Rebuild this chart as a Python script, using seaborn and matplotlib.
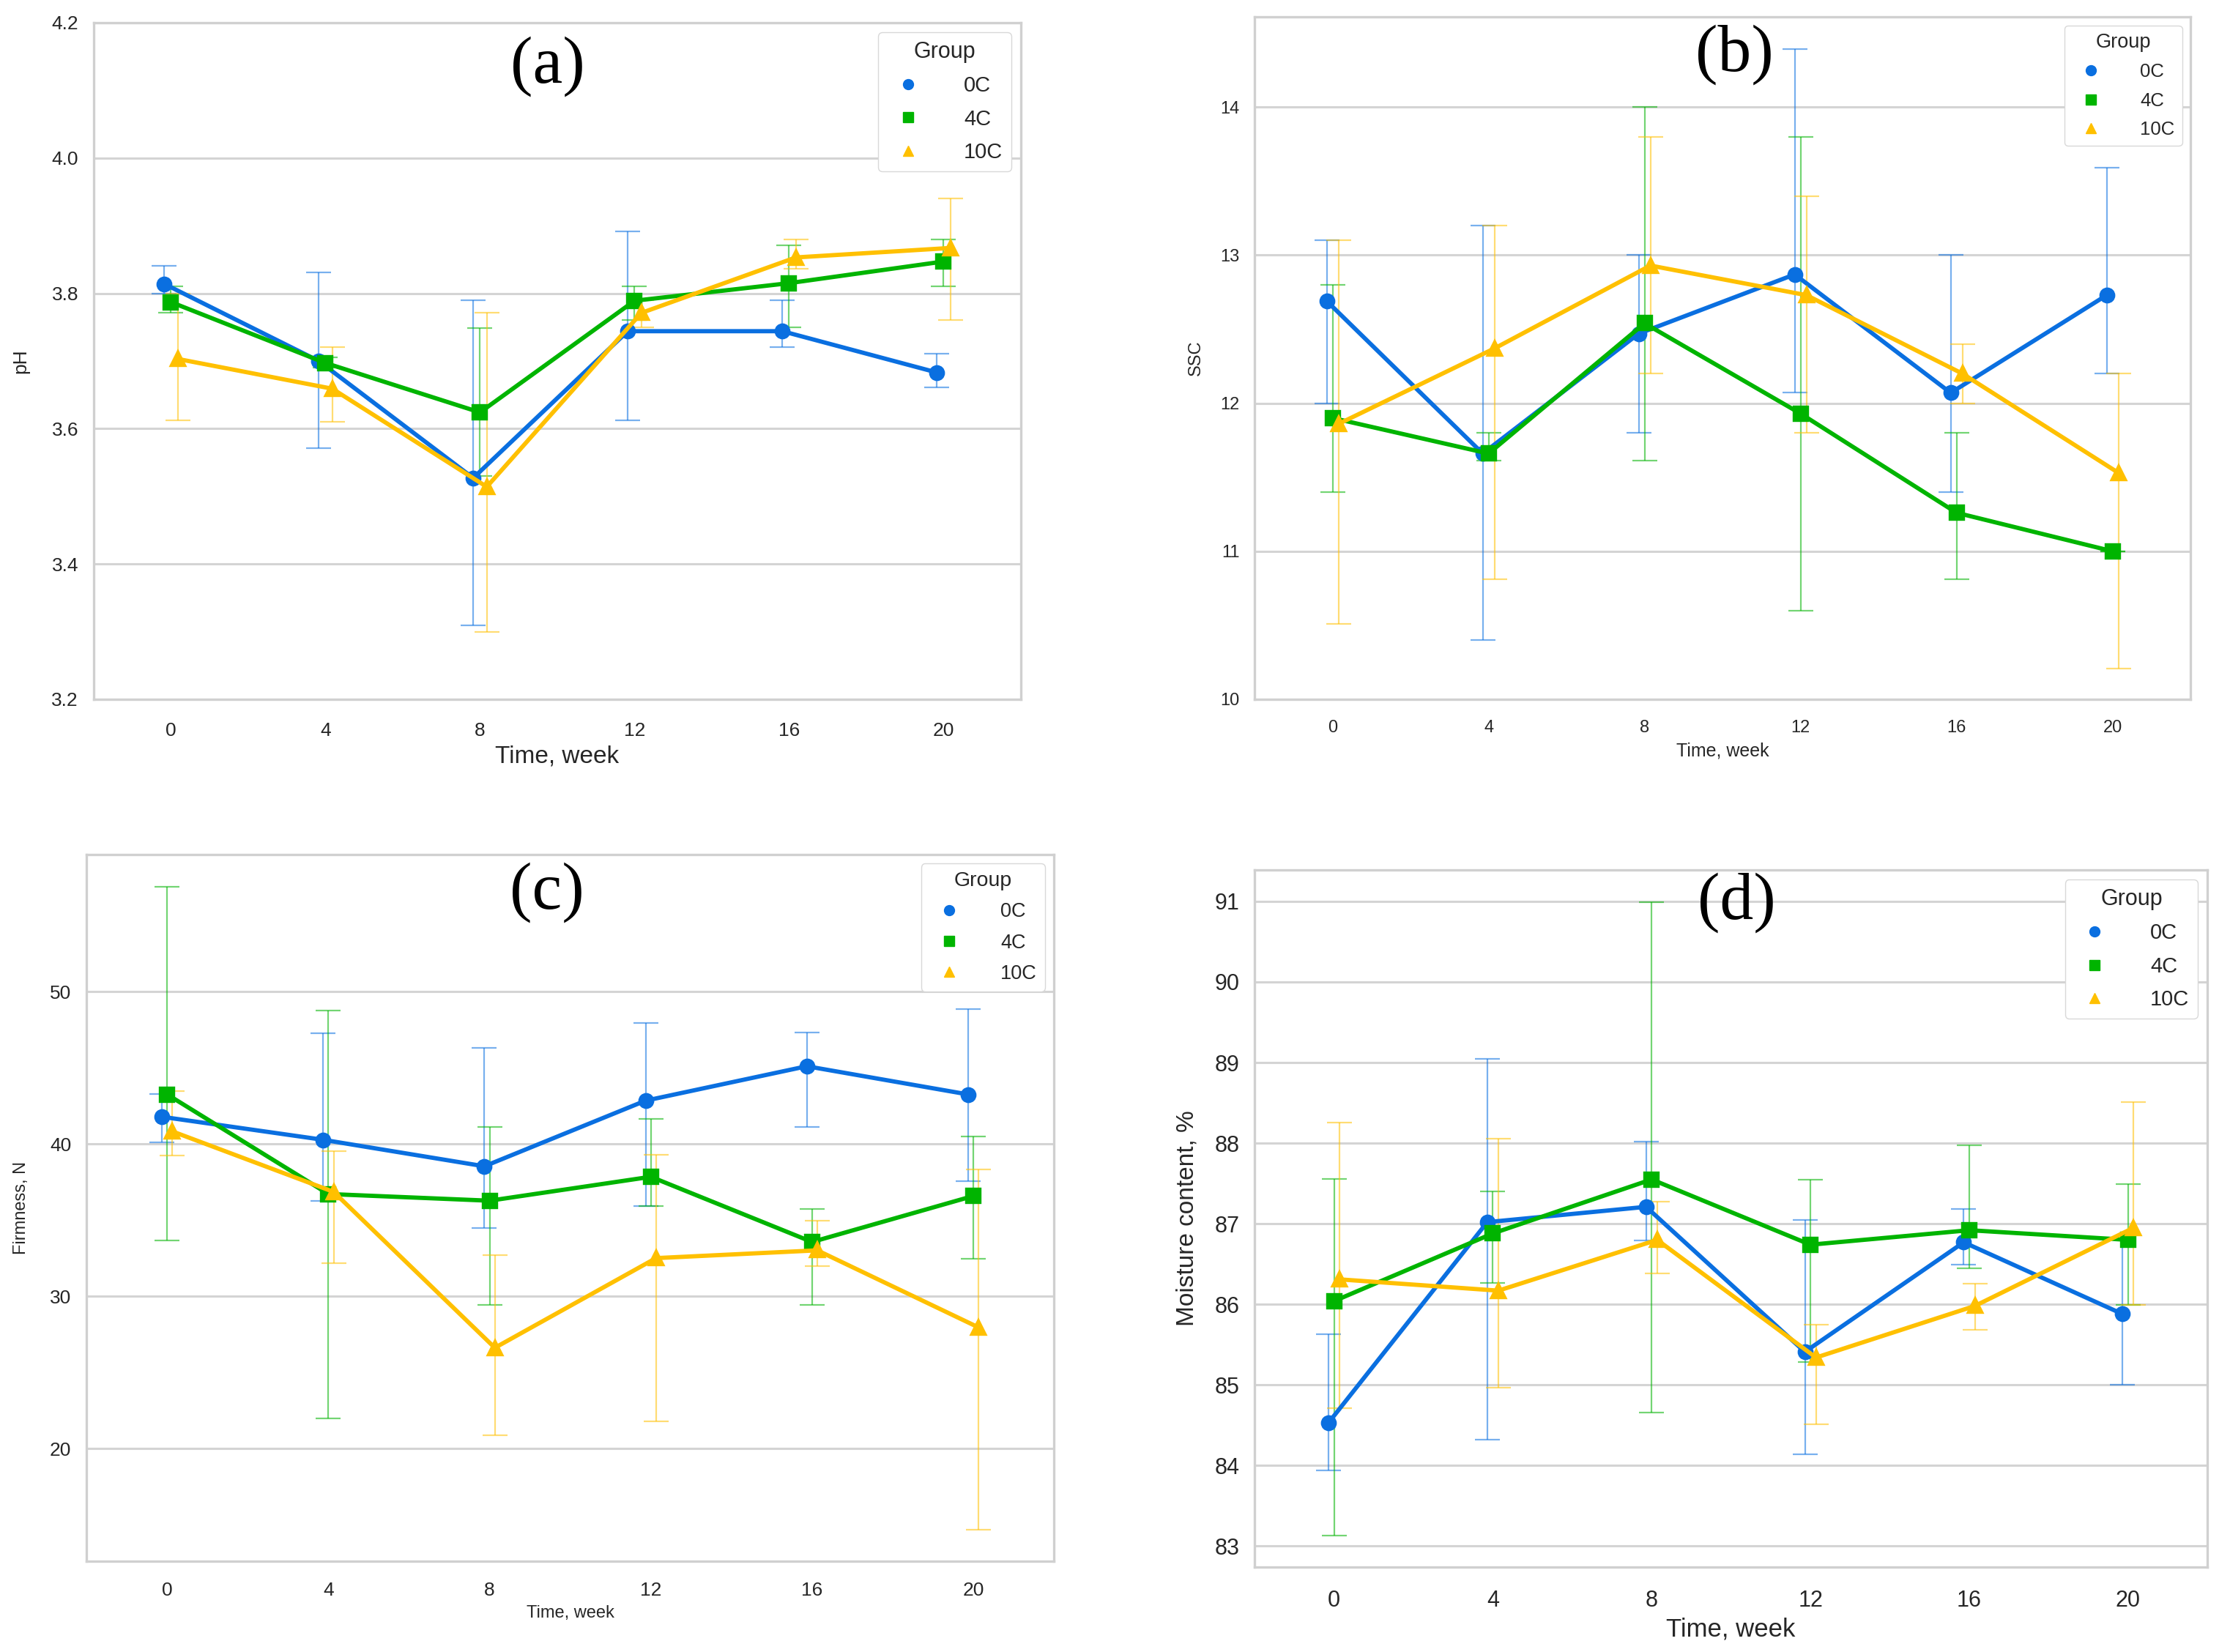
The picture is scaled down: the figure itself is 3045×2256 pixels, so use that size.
import numpy as np
import pandas as pd
import matplotlib
matplotlib.use("Agg")
import matplotlib.pyplot as plt
from matplotlib.lines import Line2D
import seaborn as sns

weeks = [0, 4, 8, 12, 16, 20]
groups = ["0C", "4C", "10C"]
colors = ["#0a6fe0", "#00b400", "#ffc000"]
markers = ["o", "s", "^"]

# pH (rows: 0C, 4C, 10C)
ph_mean = [[3.814, 3.700, 3.527, 3.744, 3.744, 3.683],
           [3.787, 3.697, 3.624, 3.789, 3.815, 3.847],
           [3.703, 3.659, 3.514, 3.771, 3.853, 3.867]]
ph_low = [[3.800, 3.571, 3.309, 3.612, 3.721, 3.661],
          [3.771, 3.690, 3.530, 3.761, 3.750, 3.810],
          [3.612, 3.610, 3.300, 3.750, 3.836, 3.761]]
ph_high = [[3.841, 3.831, 3.790, 3.891, 3.790, 3.711],
           [3.810, 3.705, 3.749, 3.810, 3.871, 3.880],
           [3.800, 3.721, 3.771, 3.790, 3.880, 3.940]]
ph_ticks = [3.2, 3.4, 3.6, 3.8, 4.0, 4.2]

# SSC
ssc_mean = [[12.69, 11.66, 12.47, 12.87, 12.07, 12.73],
            [11.90, 11.66, 12.54, 11.93, 11.26, 11.00],
            [11.86, 12.37, 12.93, 12.73, 12.20, 11.53]]
ssc_low = [[12.00, 10.40, 11.80, 12.07, 11.40, 12.20],
           [11.40, 11.61, 11.61, 10.60, 10.81, 11.00],
           [10.51, 10.81, 12.20, 11.80, 12.00, 10.21]]
ssc_high = [[13.10, 13.20, 13.00, 14.39, 13.00, 13.59],
            [12.80, 11.80, 14.00, 13.80, 11.80, 11.00],
            [13.10, 13.20, 13.80, 13.40, 12.40, 12.20]]
ssc_ticks = [10, 11, 12, 13, 14]

# Firmness, N
firm_mean = [[41.78, 40.27, 38.53, 42.84, 45.10, 43.25],
             [43.25, 36.71, 36.27, 37.84, 33.56, 36.58],
             [40.82, 36.85, 26.61, 32.50, 33.01, 27.95]]
firm_low = [[40.10, 36.27, 34.49, 35.92, 41.10, 37.57],
            [33.66, 21.99, 29.45, 35.92, 29.45, 32.47],
            [39.25, 32.16, 20.89, 21.78, 31.99, 14.66]]
firm_high = [[43.29, 47.29, 46.30, 47.95, 47.33, 48.87],
             [56.90, 48.77, 41.10, 41.64, 35.75, 40.48],
             [43.49, 39.52, 32.71, 39.28, 34.97, 38.32]]
firm_ticks = [20, 30, 40, 50]

# Moisture content, %
moist_mean = [[84.53, 87.02, 87.21, 85.41, 86.77, 85.88],
              [86.04, 86.88, 87.55, 86.74, 86.92, 86.80],
              [86.31, 86.17, 86.80, 85.34, 85.98, 86.95]]
moist_low = [[83.94, 84.32, 86.79, 84.14, 86.49, 85.00],
             [83.13, 86.27, 84.66, 85.28, 86.45, 85.99],
             [84.71, 84.97, 86.38, 84.51, 85.68, 85.99]]
moist_high = [[85.63, 89.05, 88.02, 87.05, 87.18, 86.82],
              [87.56, 87.40, 90.99, 87.55, 87.97, 87.49],
              [88.26, 88.06, 87.27, 85.75, 86.26, 88.51]]
moist_ticks = [83, 84, 85, 86, 87, 88, 89, 90, 91]

sns.set_theme(style="whitegrid")
plt.rcParams["font.family"] = ["Liberation Sans", "DejaVu Sans"]


def draw_panel(ax, mean, low, high, ylabel, ylim, yticks, tag, tag_xy,
               dodge, tick_fs, xlab_fs, ylab_fs, leg_fs, ylabpad, xpad):
    rows = []
    for g, vals in zip(groups, mean):
        for w, v in zip(weeks, vals):
            rows.append({"Time": w, "Group": g, "value": v})
    df = pd.DataFrame(rows)
    sns.pointplot(data=df, x="Time", y="value", hue="Group", hue_order=groups,
                  palette=colors, markers=markers, linestyles="-", dodge=dodge,
                  errorbar=None, legend=False, ax=ax, linewidth=4.2,
                  markersize=12.5)
    xs = [ax.lines[i].get_xdata() for i in range(len(groups))]
    for i in range(len(groups)):
        m = np.array(mean[i])
        lo = np.array(low[i])
        hi = np.array(high[i])
        ax.errorbar(xs[i], m, yerr=[m - lo, hi - m], fmt="none",
                    ecolor=colors[i], elinewidth=1.6, capsize=12,
                    capthick=1.6, alpha=0.55, zorder=1.5)
    ax.set_xlim(-0.5, len(weeks) - 0.5)
    ax.set_ylim(*ylim)
    ax.set_yticks(yticks)
    ax.set_xlabel("Time, week", fontsize=xlab_fs, labelpad=6)
    ax.set_ylabel(ylabel, fontsize=ylab_fs, labelpad=ylabpad)
    ax.tick_params(axis="both", labelsize=tick_fs)
    ax.tick_params(axis="x", pad=xpad)
    ax.tick_params(axis="y", pad=9)
    ax.grid(axis="y", color="#d4d4d4", linewidth=2.2)
    for sp in ax.spines.values():
        sp.set_color("#d0d0d0")
        sp.set_linewidth(2.4)
    handles = [Line2D([], [], color=c, marker=mk, linestyle="", markersize=10)
               for c, mk in zip(colors, markers)]
    ax.legend(handles, groups, title="Group", loc="upper right",
              fontsize=leg_fs, title_fontsize=leg_fs + 1, handletextpad=1.6,
              labelspacing=0.6, borderaxespad=0.45, framealpha=1,
              edgecolor="#d8d8d8")
    ax.text(tag_xy[0], tag_xy[1], tag, transform=ax.transAxes, ha="center",
            va="center", fontsize=66, family="Liberation Serif", color="black")


fig = plt.figure(figsize=(30.45, 22.56), dpi=100)
ax_a = fig.add_axes([0.0420, 0.5767, 0.4158, 0.4096])
ax_b = fig.add_axes([0.5626, 0.5767, 0.4197, 0.4131])
ax_c = fig.add_axes([0.0388, 0.0550, 0.4338, 0.4277])
ax_d = fig.add_axes([0.5626, 0.0514, 0.4273, 0.4220])

draw_panel(ax_a, ph_mean, ph_low, ph_high, "pH", (3.2, 4.2), ph_ticks,
           "(a)", (0.49, 0.935), 0.088, 19, 24, 19, 21, 22, 16)
draw_panel(ax_b, ssc_mean, ssc_low, ssc_high, "SSC", (10, 14.61), ssc_ticks,
           "(b)", (0.513, 0.945), 0.075, 17, 18, 17, 18.5, 16, 14)
draw_panel(ax_c, firm_mean, firm_low, firm_high, "Firmness, N", (12.6, 59),
           firm_ticks, "(c)", (0.476, 0.947), 0.065, 19, 17, 17, 19.5, 20, 14)
draw_panel(ax_d, moist_mean, moist_low, moist_high, "Moisture content, %",
           (82.74, 91.39), moist_ticks, "(d)", (0.506, 0.953), 0.07, 22, 25,
           24, 21, 16, 16)

fig.savefig("out.png", dpi=100)
